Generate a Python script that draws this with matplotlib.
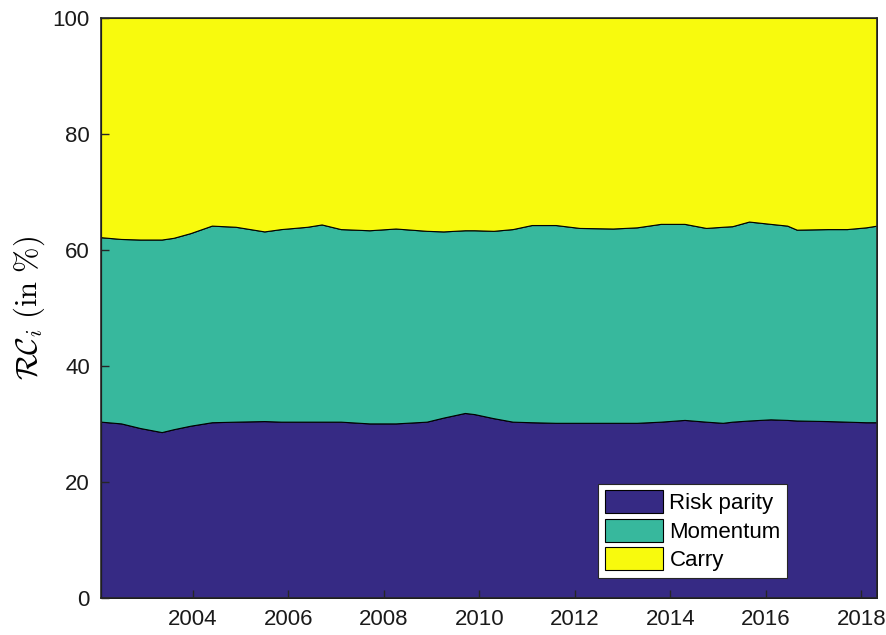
import matplotlib
matplotlib.use("Agg")
import matplotlib.pyplot as plt
import numpy as np

# Data: decimal years and cumulative risk contributions (%)
dates = [2002.08, 2002.5, 2002.9, 2003.35, 2003.6, 2003.95, 2004.4, 2004.9,
         2005.5, 2005.85, 2006.4, 2006.7, 2007.1, 2007.7, 2008.25, 2008.9,
         2009.25, 2009.7, 2009.9, 2010.3, 2010.7, 2011.1, 2011.6, 2012.1,
         2012.8, 2013.3, 2013.8, 2014.3, 2014.75, 2015.1, 2015.3, 2015.65,
         2016.1, 2016.45, 2016.65, 2017.3, 2017.7, 2018.1, 2018.33]
risk_parity = [30.4, 30.1, 29.3, 28.6, 29.1, 29.7, 30.3, 30.4,
               30.5, 30.4, 30.4, 30.4, 30.4, 30.1, 30.1, 30.4,
               31.1, 31.9, 31.7, 31.0, 30.4, 30.3, 30.2, 30.2,
               30.2, 30.2, 30.4, 30.7, 30.4, 30.2, 30.4, 30.6,
               30.8, 30.7, 30.6, 30.5, 30.4, 30.3, 30.3]
rp_plus_momentum = [62.2, 61.9, 61.8, 61.8, 62.1, 62.9, 64.2, 64.0,
                    63.2, 63.6, 64.0, 64.4, 63.6, 63.4, 63.7, 63.3,
                    63.2, 63.4, 63.4, 63.3, 63.6, 64.3, 64.3, 63.8,
                    63.7, 63.9, 64.5, 64.5, 63.8, 64.0, 64.1, 64.9,
                    64.5, 64.2, 63.5, 63.6, 63.6, 63.9, 64.2]
labels = ["Risk parity", "Momentum", "Carry"]
colors = ["#362A84", "#37B89D", "#F8FA0D"]
xticks = [2004, 2006, 2008, 2010, 2012, 2014, 2016, 2018]

plt.rcParams["font.family"] = ["Liberation Sans", "DejaVu Sans"]
plt.rcParams["mathtext.fontset"] = "cm"

momentum = np.array(rp_plus_momentum) - np.array(risk_parity)
carry = 100 - np.array(rp_plus_momentum)

fig = plt.figure(figsize=(8.87, 6.35), dpi=100)
ax = fig.add_axes([0.1139, 0.0583, 0.8748, 0.9134])
ax.stackplot(dates, risk_parity, momentum, carry, labels=labels, colors=colors,
             edgecolor="black", linewidth=0.8)

ax.set_xlim(dates[0], dates[-1])
ax.set_ylim(0, 100)
ax.set_xticks(xticks)
ax.set_yticks([0, 20, 40, 60, 80, 100])
ax.tick_params(direction="in", labelsize=16, length=6, width=1, colors="#262626",
               labelcolor="#1a1a1a", pad=8)
for sp in ax.spines.values():
    sp.set_linewidth(1.2)
    sp.set_color("#262626")
ax.set_ylabel(r"$\mathcal{RC}_i\ (\mathrm{in}\ \%)$", fontsize=22, labelpad=4)

leg = ax.legend(loc="lower right", bbox_to_anchor=(0.8845, 0.035), fontsize=16,
                fancybox=False, framealpha=1, edgecolor="#262626",
                handlelength=2.6, handleheight=1.2, handletextpad=0.3,
                labelspacing=0.2, borderpad=0.3, borderaxespad=0)
leg.get_frame().set_linewidth(0.8)

fig.savefig("out.png", dpi=100)
